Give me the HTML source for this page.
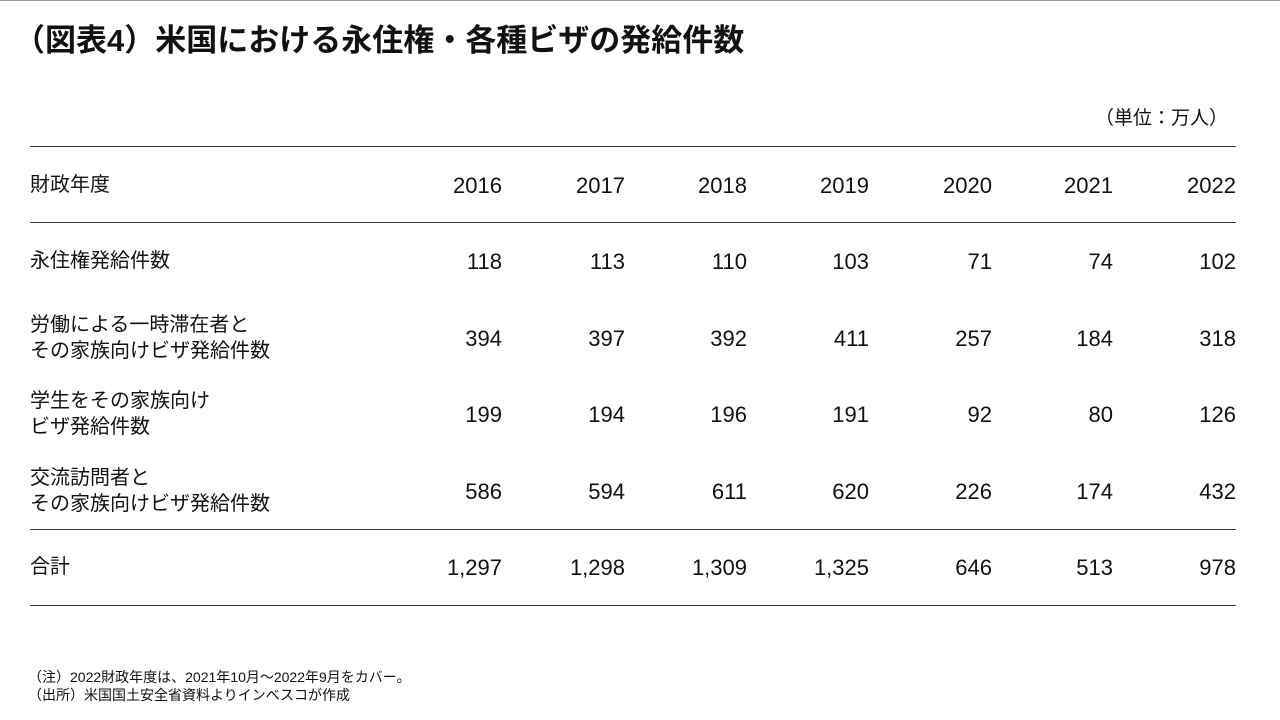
<!DOCTYPE html>
<html><head><meta charset="utf-8"><style>
body{margin:0;width:1280px;height:720px;background:#fff;position:relative;overflow:hidden;font-family:"Liberation Sans","Noto Sans CJK JP",sans-serif;color:#111}
.a{position:absolute;white-space:nowrap}
.t{left:14px;top:15px;font-size:31px;font-weight:bold;letter-spacing:0px}
.u{right:52px;top:103px;font-size:19px}
.hl{position:absolute;left:30px;width:1206px;height:1px;background:#333}
.lab{left:30px;font-size:20px;line-height:26px}
.v{font-size:22px;text-align:right;width:110px}
.n{left:28px;font-size:14px}
</style></head><body>
<div class="hl" style="top:0;left:0;width:1280px;background:#999"></div>
<div class="a t">（図表4）米国における永住権・各種ビザの発給件数</div>
<div class="a u">（単位：万人）</div>
<div class="hl" style="top:146px"></div>
<div class="hl" style="top:222px"></div>
<div class="hl" style="top:529px"></div>
<div class="hl" style="top:605px"></div>
<div id="tbl"></div>
<div class="a n" style="top:667px">（注）2022財政年度は、2021年10月～2022年9月をカバー。</div>
<div class="a n" style="top:685px">（出所）米国国土安全省資料よりインベスコが作成</div>
<script>
const years=["2016","2017","2018","2019","2020","2021","2022"];
const rowLabels=["財政年度","永住権発給件数","労働による一時滞在者と<br>その家族向けビザ発給件数","学生をその家族向け<br>ビザ発給件数","交流訪問者と<br>その家族向けビザ発給件数","合計"];
const permanent=["118","113","110","103","71","74","102"];
const work=["394","397","392","411","257","184","318"];
const student=["199","194","196","191","92","80","126"];
const exchange=["586","594","611","620","226","174","432"];
const total=["1,297","1,298","1,309","1,325","646","513","978"];
const rows=[years,permanent,work,student,exchange,total];
const rowNames=["header-row","permanent-row","work-row","student-row","exchange-row","total-row"];
const colRight=[502,625,747,869,992,1113,1236];
const rowCenter=[185,261,338,414,491,567];
const tbl=document.getElementById('tbl');
rows.forEach((r,i)=>{
  const l=document.createElement('div');
  l.className='a lab';
  
  
  l.innerHTML=rowLabels[i];
  const lines=rowLabels[i].split('<br>').length;
  l.style.top=(rowCenter[i]-lines*13)+'px';
  tbl.appendChild(l);
  r.forEach((v,j)=>{
    const c=document.createElement('div');
    c.className='a v';
    
    
    c.textContent=v;
    c.style.left=(colRight[j]-110)+'px';
    c.style.top=(rowCenter[i]-12)+'px';
    tbl.appendChild(c);
  });
});
</script>
</body></html>
